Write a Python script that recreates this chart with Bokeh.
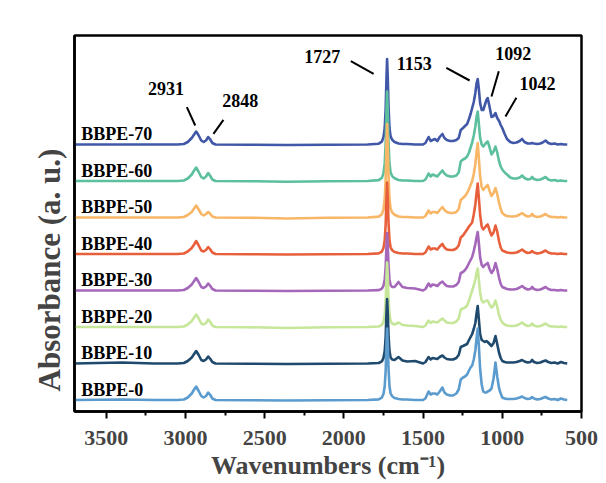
import numpy as np
from bokeh.plotting import figure
from bokeh.models import Range1d, FixedTicker, ColumnDataSource
from bokeh.embed import file_html
from bokeh.resources import INLINE
from bokeh.core.properties import value

# ---------------- data (heights in 0.01 a.u.) ----------------
wavenumber = [
    4000, 3700, 3400, 3200, 3050, 3010, 2985, 2960, 2945, 2932, 2918, 2900, 2885, 2870, 2856, 2845, 2830, 2810, 2600, 2360, 2100, 1850,
    1780, 1760, 1750, 1742, 1736, 1731, 1727, 1723, 1718, 1712, 1705, 1695, 1680, 1655, 1630, 1600, 1550,
    1500, 1485, 1465, 1452, 1440, 1425, 1410, 1395, 1378, 1365, 1350, 1330, 1310, 1290, 1275, 1262, 1248, 1235, 1222, 1210, 1200,
    1190, 1180, 1170, 1162, 1155, 1148, 1140, 1130, 1120, 1110, 1100, 1092, 1080, 1068, 1055, 1043, 1032, 1020, 1010, 1000, 985, 970,
    950, 930, 910, 890, 875, 860, 840, 822, 812, 800, 780, 760, 745, 727, 710, 690, 670, 650, 630, 610, 590,
]

bbpe_0 = [
    0.5, 0.5, 1, 0.5, 0.5, 1, 3, 7, 11, 14, 10, 4.5, 3, 4.5, 8, 6, 2, 0.5, 0.3, 0, 0.3, 0.5,
    1.1, 2.9, 6.5, 14.4, 30, 56, 72, 58, 32, 14.4, 7.2, 4.3, 2.5, 1.5, 1, 1, 0.5,
    0.5, 2, 9, 6, 7, 7, 6, 9, 13, 8, 6, 5, 5, 7, 11, 21, 23, 24, 26, 30, 33,
    35, 41, 50, 63, 72, 55, 32, 16, 9, 8, 8, 9, 10, 12, 22, 38, 24, 12, 7, 3, 2, 1.5,
    1.5, 1.5, 2, 3, 4, 2.5, 1.5, 2, 3.5, 2, 1, 1.5, 2.5, 3.5, 2, 1, 1.5, 0.5, 2, 1, 0.5,
]
bbpe_10 = [
    0.5, 0.5, 1.5, 0.5, 0.5, 1, 3, 6.5, 10, 13, 9.5, 4, 3, 4.5, 7.5, 5.5, 2, 0.5, 0.3, 0, 0.3, 0.5,
    1, 2.6, 5.9, 13, 27, 51, 65, 52, 29, 13, 6.5, 4.5, 4, 7, 3.5, 2.5, 3,
    0.5, 2, 7, 4.5, 6, 5.5, 5, 7, 8.5, 6.5, 5, 4.5, 4.5, 6, 9, 17, 18, 19, 20, 24, 27,
    30, 35, 41, 51, 58, 45, 30, 24, 23, 22, 23, 22, 20, 18, 21, 28, 20, 11, 6, 3, 2, 1.5,
    1.5, 1.5, 2, 3, 4, 2.5, 1.5, 2, 4, 2, 1, 1.5, 2.5, 3.5, 2, 1, 1.5, 0.5, 2, 1, 0.5,
]
bbpe_20 = [
    0.5, 0.5, 0.5, 0.5, 0.5, 1, 3, 6.5, 10, 13, 9.5, 4, 3, 4.5, 8, 6, 2, 0.5, 0.3, -0.5, 0.3, 0.5,
    1, 2.6, 5.9, 13, 27, 51, 65, 52, 29, 13, 6.5, 4, 3, 5, 2.5, 2, 1.5,
    0.5, 2, 7, 4.5, 6, 5.5, 5, 7, 9, 7, 5, 4.5, 4.5, 6, 9, 18, 19, 20, 22, 27, 32,
    37, 42, 48, 55, 59, 48, 35, 27, 25, 26, 27, 27, 23, 20, 22, 27, 21, 12, 8, 5, 3, 2,
    1.5, 1.5, 2, 3.5, 5, 3, 1.5, 2, 4, 2, 1, 1.5, 2.5, 4, 2, 1, 1, 0.5, 1, 0.5, 0.5,
]
bbpe_30 = [
    0.5, 0.5, 0.5, 0.5, 0.5, 1, 3, 6.5, 10, 13, 9.5, 4, 3, 4.5, 7.5, 5.5, 2, 0.5, 0.3, 0, 0.3, 0.5,
    0.9, 2.3, 5.2, 11.6, 24, 45, 58, 46, 26, 11.6, 5.8, 4, 4, 9, 4, 3, 2.5,
    0.5, 2, 7.5, 4.5, 6.5, 6, 5, 7.5, 9.5, 7, 5, 4.5, 4.5, 6, 9, 18, 19, 21, 24, 28, 31,
    34, 40, 47, 54, 59, 48, 34, 26, 24, 26, 27, 28, 22, 18, 21, 28, 22, 13, 7, 4, 3, 2,
    1.5, 1.5, 2, 3.5, 5, 3, 1.5, 2, 4, 2, 1, 1.5, 2.5, 4, 2, 1, 1, 0.5, 1, 0.5, 0.5,
]
bbpe_40 = [
    0.5, 0.5, 0.5, 0.5, 0.5, 1, 3, 6.5, 10, 13.5, 9.5, 4, 3, 4.5, 7.5, 5.5, 2, 0.5, 0.3, 0, 0.3, 0.5,
    1.1, 2.9, 6.5, 14.4, 30, 56, 72, 58, 32, 14.4, 7.2, 4.3, 2.5, 1.5, 1, 1, 0.5,
    0.5, 2, 8, 5, 6, 6, 5, 8, 10.5, 7, 5, 4.5, 4.5, 6, 9, 17, 19, 22, 25, 28, 30,
    32, 40, 50, 62, 71, 57, 40, 28, 25, 27, 29, 30, 24, 19, 22, 29, 23, 13, 7, 4, 3, 2,
    1.5, 1.5, 2, 3.5, 5, 3, 1.5, 2, 3.5, 2, 1, 1.5, 2.5, 4, 2, 1, 1, 0.5, 1, 0.5, 0.5,
]
bbpe_50 = [
    0.5, 0.5, 0.5, 0.5, 0.5, 1, 3, 6, 9.5, 12.5, 9, 4, 2.5, 4, 6, 4.5, 1.5, 0.5, 0.3, -0.5, 0.3, 0.5,
    1.4, 3.8, 8.5, 19, 39, 73, 94, 75, 42, 19, 9.4, 5.6, 3.3, 1.5, 1, 1, 0.5,
    0.5, 2, 7.5, 4.5, 6, 6, 5, 8, 11, 8, 6, 5, 5, 6, 9, 18, 20, 22, 25, 29, 33,
    37, 44, 54, 66, 75, 60, 42, 31, 28, 30, 32, 33, 27, 22, 25, 30, 24, 15, 9, 5, 3, 2,
    1.5, 1.5, 2, 3.5, 5, 3, 1.5, 2, 4, 2, 1, 1.5, 2.5, 4, 2, 1, 1, 0.5, 1, 0.5, 0.5,
]
bbpe_60 = [
    0.5, 0.5, 0.5, 0.5, 0.5, 1, 3, 7, 11, 14, 10, 4.5, 3, 5, 8.5, 6, 2, 0.5, 0.3, -0.3, 0.3, 0.5,
    1.4, 3.6, 8.1, 18, 38, 70, 90, 72, 40, 18, 9, 5.4, 3.2, 1.5, 1, 1, 0.5,
    0.5, 2, 8, 5, 7, 6, 5, 8, 11, 8, 6, 5, 5, 6, 9, 20, 22, 23, 25, 29, 34,
    39, 46, 55, 65, 70, 58, 44, 37, 35, 37, 39, 40, 34, 27, 30, 35, 29, 20, 15, 12, 9, 7,
    4, 3, 3, 4, 6, 3.5, 2, 2.5, 4.5, 2.5, 1.5, 2, 3, 4.5, 2, 1, 1.5, 0.5, 1, 0.5, 0.5,
]
bbpe_70 = [
    0.5, 0.5, 0.5, 0.5, 0.5, 1, 3, 7, 10.5, 13.5, 10, 4.5, 3, 4.5, 8, 6, 2, 0.5, 0.3, 0, 0.3, 0.5,
    1.3, 3.4, 7.7, 17, 36, 67, 86, 69, 39, 17, 8.6, 5.2, 3, 1.5, 1, 1, 0.5,
    0.5, 2, 8, 4, 5, 6, 4, 8, 11, 7, 5, 4, 4, 5, 7, 15, 17, 19, 21, 26, 31,
    37, 43, 52, 62, 66, 56, 42, 35, 35, 40, 45, 47, 38, 28, 29, 32, 27, 24, 20, 17, 11, 6,
    3, 2, 2.5, 4, 6, 3, 1.5, 1.5, 2, 1.5, 1, 1.5, 2.5, 4.5, 2, 1, 1.5, 0.5, 1, 0.5, 0.5,
]

series_names = ["BBPE-0", "BBPE-10", "BBPE-20", "BBPE-30", "BBPE-40", "BBPE-50", "BBPE-60", "BBPE-70"]
series_values = [bbpe_0, bbpe_10, bbpe_20, bbpe_30, bbpe_40, bbpe_50, bbpe_60, bbpe_70]
series_colors = ["#5b9bcd", "#1f4a6d", "#c6e69a", "#a467b9", "#e85f3b", "#f8b667", "#5cbf9d", "#4058a7"]

peak_labels = ["2931", "2848", "1727", "1153", "1092", "1042"]
x_ticks = [3500, 3000, 2500, 2000, 1500, 1000, 500]
x_minor = [3250, 2750, 2250, 1750, 1250, 750]

# ---------------- layout constants ----------------
STEP = 0.365          # vertical offset between stacked spectra
SERIF = "Liberation Serif"

# annotation layout: (text dx, text y, line x0 dx, line y0, line x1 dx, line y1), relative to peak wavenumber
ann_layout = [
    (191, 3.12, 60, 2.933, 7, 2.75),
    (-194, 3.00, -88, 2.807, -25, 2.667),
    (409, 3.44, 229, 3.393, 85, 3.267),
    (402, 3.37, 200, 3.327, 53, 3.20),
    (-162, 3.47, -70, 3.293, -24, 3.04),
    (-264, 3.17, -131, 3.027, -62, 2.84),
]

for v in series_values:
    assert len(v) == len(wavenumber), len(v)

p = figure(width=606, height=483,
           x_range=Range1d(3700, 500), y_range=Range1d(-0.11, 3.65),
           output_backend="svg", toolbar_location=None,
           min_border_left=74, min_border_right=25, min_border_top=35, min_border_bottom=72)
p.background_fill_color = "white"
p.border_fill_color = "white"
p.xgrid.visible = False
p.ygrid.visible = False
p.outline_line_color = "black"
p.outline_line_width = 2.5
p.outline_line_alpha = 1.0

wn = np.array(wavenumber, dtype=float)
# draw top spectrum first so lower spectra lie on top
for i in reversed(range(len(series_names))):
    y = np.array(series_values[i], dtype=float) / 100.0 + i * STEP
    p.line(wn, y, line_color=series_colors[i], line_width=2.6, line_join="round")

# series labels
lab_src = ColumnDataSource(dict(
    x=[3658] * len(series_names),
    y=[i * STEP + 0.11 for i in range(len(series_names))],
    t=series_names,
))
p.text(x="x", y="y", text="t", source=lab_src, text_font=value(SERIF),
       text_font_style="bold", text_font_size="18px", text_color="black",
       text_align="left", text_baseline="alphabetic")

# peak annotations
tx, ty, x0, y0, x1, y1 = [], [], [], [], [], []
for lab, (tdx, tyy, ldx0, ly0, ldx1, ly1) in zip(peak_labels, ann_layout):
    w = float(lab)
    tx.append(w + tdx); ty.append(tyy)
    x0.append(w + ldx0); y0.append(ly0)
    x1.append(w + ldx1); y1.append(ly1)
p.segment(x0=x0, y0=y0, x1=x1, y1=y1, line_color="black", line_width=2)
p.text(x=tx, y=ty, text=peak_labels, text_font=value(SERIF), text_font_style="bold",
       text_font_size="18px", text_color="black", text_align="center", text_baseline="middle")

# x axis
xa = p.xaxis[0]
xa.ticker = FixedTicker(ticks=x_ticks, minor_ticks=x_minor)
xa.axis_label = "Wavenumbers (cm\u207b\u00b9)"
xa.axis_label_text_font = SERIF
xa.axis_label_text_font_style = "bold"
xa.axis_label_text_font_size = "26px"
xa.axis_label_standoff = 3
xa.major_label_text_font = SERIF
xa.major_label_text_font_style = "bold"
xa.major_label_text_font_size = "22px"
xa.major_label_standoff = 12
xa.axis_line_width = 2.5
xa.major_tick_in = 0
xa.major_tick_out = 7
xa.minor_tick_in = 0
xa.minor_tick_out = 4
xa.major_tick_line_width = 2
xa.minor_tick_line_width = 2
xa.axis_line_color = "black"

# y axis
ya = p.yaxis[0]
ya.ticker = FixedTicker(ticks=[])
ya.major_label_text_font_size = "0px"
ya.major_tick_in = 0
ya.major_tick_out = 0
ya.minor_tick_in = 0
ya.minor_tick_out = 0
ya.axis_line_width = 2.5
ya.axis_label = "Absorbance (a. u.)" + "\u00a0" * 12
ya.axis_label_text_font = SERIF
ya.axis_label_text_font_style = "bold"
ya.axis_label_text_font_size = "31px"
ya.axis_label_standoff = 8

open("out.html", "w").write(file_html(p, INLINE))
